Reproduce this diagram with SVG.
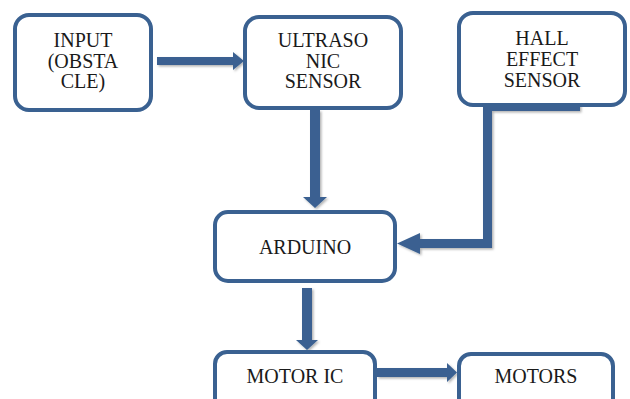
<svg xmlns="http://www.w3.org/2000/svg" width="630" height="399" viewBox="0 0 630 399">
  <defs>
    <filter id="sh" x="-20%" y="-20%" width="140%" height="140%">
      <feDropShadow dx="1.5" dy="1.5" stdDeviation="1.2" flood-color="#000" flood-opacity="0.3"/>
    </filter>
  </defs>
  <style>
    .box { fill: #ffffff; stroke: #3A6191; stroke-width: 4; }
    .lbl { font-family: 'Liberation Serif', 'Times New Roman', serif; font-size: 20px; fill: #1a1a1a; text-anchor: middle; }
    .arr { fill: #3A6191; stroke: none; }
    .ln { fill: none; stroke: #3A6191; stroke-width: 9; stroke-linejoin: miter; }
  </style>
  <rect width="630" height="399" fill="#ffffff"/>

  <g id="connectors" filter="url(#sh)">
    <polygon class="arr" points="157,57 233,57 233,52 244,61 233,70 233,65 157,65"/>
    <polygon class="arr" points="310,110 320,110 320,197 327,197 315,208 303,197 310,197"/>
    <path class="ln" d="M580,106.5 H487.5 V243.5 H419"/>
    <polygon class="arr" points="420,233 397,243.5 420,254"/>
    <polygon class="arr" points="302,288 312,288 312,340 318,340 307,350 296,340 302,340"/>
    <polygon class="arr" points="377,368 447,368 447,363 457,372.5 447,382 447,377 377,377"/>
  </g>

  <g id="input">
    <rect class="box" x="15" y="15" width="136" height="95" rx="14"/>
    <text class="lbl" x="83" y="47">INPUT</text>
    <text class="lbl" x="83" y="68">(OBSTA</text>
    <text class="lbl" x="83" y="88">CLE)</text>
  </g>

  <g id="ultrasonic">
    <rect class="box" x="245" y="17" width="156" height="91" rx="14"/>
    <text class="lbl" x="323" y="47">ULTRASO</text>
    <text class="lbl" x="323" y="68">NIC</text>
    <text class="lbl" x="323" y="88">SENSOR</text>
  </g>

  <g id="hall">
    <rect class="box" x="459" y="13" width="166" height="92" rx="14"/>
    <text class="lbl" x="542" y="45">HALL</text>
    <text class="lbl" x="542" y="66">EFFECT</text>
    <text class="lbl" x="542" y="87">SENSOR</text>
  </g>

  <g id="arduino">
    <rect class="box" x="215" y="212" width="180" height="69" rx="13"/>
    <text class="lbl" x="305" y="254">ARDUINO</text>
  </g>

  <g id="motoric">
    <rect class="box" x="215" y="352" width="160" height="62" rx="12"/>
    <text class="lbl" x="295" y="383">MOTOR IC</text>
  </g>

  <g id="motors">
    <rect class="box" x="459" y="354" width="154" height="62" rx="12"/>
    <text class="lbl" x="536" y="383">MOTORS</text>
  </g>
</svg>
